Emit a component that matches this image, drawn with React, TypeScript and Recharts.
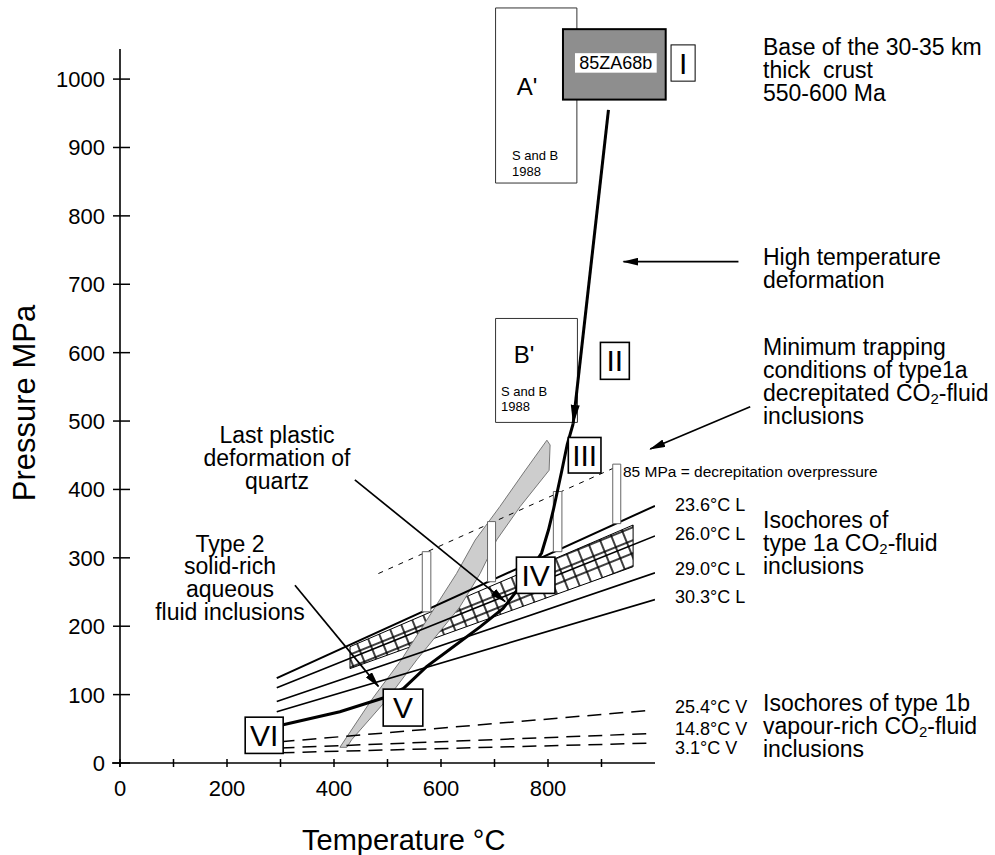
import React from 'react'
import { ComposedChart, Line, XAxis, YAxis, ReferenceArea, ReferenceLine } from 'recharts'

const FONT = '"Liberation Sans", Arial, Helvetica, sans-serif'

// axes
const T_TICKS = [0, 100, 200, 300, 400, 500, 600, 700, 800, 900]
const T_LABELS = [0, 200, 400, 600, 800]
const P_TICKS = [0, 100, 200, 300, 400, 500, 600, 700, 800, 900, 1000]

// isochores of type 1a CO2 inclusions (liquid homogenisation)
const isoL236 = [{ T: 293, P: 124 }, { T: 1000, P: 376 }]
const isoL260 = [{ T: 293, P: 110 }, { T: 1000, P: 332 }]
const isoL290 = [{ T: 293, P: 90 }, { T: 1000, P: 278 }]
const isoL303 = [{ T: 293, P: 75 }, { T: 1000, P: 239 }]

// isochores of type 1b (vapour homogenisation)
const isoV254 = [{ T: 300, P: 31 }, { T: 990, P: 77 }]
const isoV148 = [{ T: 300, P: 22 }, { T: 990, P: 43 }]
const isoV31 = [{ T: 300, P: 15 }, { T: 990, P: 29 }]

// decrepitation overpressure line (85 MPa above the 23.6 isochore)
const overpressure = [{ T: 483, P: 277 }, { T: 922, P: 431 }]

// 85 MPa bars
const decrepBars = [
  { t1: 565, t2: 581, p1: 221, p2: 309 },
  { t1: 687, t2: 702, p1: 265, p2: 353 },
  { t1: 810, t2: 826, p1: 309, p2: 397 },
  { t1: 921, t2: 936, p1: 350, p2: 437 },
]

// P-T path
const pathUplift = [{ T: 913, P: 955 }, { T: 847, P: 496 }]
const pathCooling = [
  { T: 847, P: 496 }, { T: 836, P: 466 }, { T: 826, P: 428 }, { T: 810, P: 370 },
  { T: 801, P: 341 }, { T: 788, P: 307 }, { T: 738, P: 248 }, { T: 716, P: 226 },
  { T: 673, P: 199 }, { T: 623, P: 170 }, { T: 573, P: 141 }, { T: 530, P: 109 },
  { T: 492, P: 95 }, { T: 411, P: 75 }, { T: 305, P: 56 },
]

// last plastic deformation of quartz (stippled band)
const quartzBand = [
  { T: 411, P: 23 }, { T: 470, P: 92 }, { T: 526, P: 151 }, { T: 589, P: 228 },
  { T: 629, P: 277 }, { T: 664, P: 326 }, { T: 710, P: 375 }, { T: 754, P: 424 },
  { T: 798, P: 472 }, { T: 804, P: 465 }, { T: 802, P: 428 }, { T: 748, P: 375 },
  { T: 704, P: 326 }, { T: 673, P: 277 }, { T: 635, P: 228 }, { T: 555, P: 151 },
  { T: 498, P: 92 }, { T: 433, P: 34 }, { T: 424, P: 23 },
]

// minimum trapping conditions (hatched)
const trappingBand = [
  { T: 430, P: 170 }, { T: 959, P: 348 }, { T: 959, P: 287 }, { T: 430, P: 138 },
]

// literature boxes (S and B 1988) and sample box
const boxA = { t1: 702, t2: 854, p1: 848, p2: 1104 }
const boxB = { t1: 702, t2: 855, p1: 498, p2: 650 }
const sampleBox = { t1: 828, t2: 1020, p1: 970, p2: 1073 }

const STAGES = [
  { label: 'I', t1: 1030, t2: 1075, p1: 997, p2: 1050, thin: true },
  { label: 'II', t1: 898, t2: 952, p1: 561, p2: 615 },
  { label: 'III', t1: 838, t2: 899, p1: 424, p2: 476 },
  { label: 'IV', t1: 741, t2: 813, p1: 248, p2: 301 },
  { label: 'V', t1: 492, t2: 566, p1: 54, p2: 108 },
  { label: 'VI', t1: 234, t2: 305, p1: 14, p2: 67 },
]

// arrows pointing at features
const ARROWS = [
  { from: { T: 1156, P: 733 }, to: { T: 941, P: 733 } },
  { from: { T: 1178, P: 521 }, to: { T: 991, P: 459 } },
  { from: { T: 439, P: 414 }, to: { T: 720, P: 236 } },
  { from: { T: 327, P: 260 }, to: { T: 483, P: 112 } },
]

type Pt = { T: number; P: number }

function polygonArea(key: string, pts: Pt[], style: any, z: number) {
  const ts = pts.map(p => p.T)
  const ps = pts.map(p => p.P)
  const t1 = Math.min(...ts), t2 = Math.max(...ts)
  const p1 = Math.min(...ps), p2 = Math.max(...ps)
  return (
    <ReferenceArea
      key={key}
      x1={t1} x2={t2} y1={p1} y2={p2}
      ifOverflow="visible"
      zIndex={z}
      shape={(r: any) => {
        const sx = (t: number) => r.x + ((t - t1) / (t2 - t1)) * r.width
        const sy = (p: number) => r.y + ((p2 - p) / (p2 - p1)) * r.height
        const d = pts.map((q, i) => `${i ? 'L' : 'M'}${sx(q.T).toFixed(1)},${sy(q.P).toFixed(1)}`).join(' ') + ' Z'
        return <path d={d} {...style} />
      }}
    />
  )
}

function stageBox(s: any) {
  return (
    <ReferenceArea
      key={'stage-' + s.label}
      x1={s.t1} x2={s.t2} y1={s.p1} y2={s.p2}
      ifOverflow="visible"
      zIndex={2100}
      shape={(r: any) => (
        <g>
          <rect x={r.x} y={r.y} width={r.width} height={r.height} fill="#fff" stroke="#000" strokeWidth={s.thin ? 1 : 1.6} />
          <text x={r.x + r.width / 2} y={r.y + r.height / 2 + 10.5} textAnchor="middle" fontSize={30} fontFamily={FONT}>{s.label}</text>
        </g>
      )}
    />
  )
}

const XTick = (props: any) => {
  const { x, y, payload } = props
  const v = payload.value
  return (
    <g>
      <line x1={x} x2={x} y1={y - 4} y2={y + 4} stroke="#000" strokeWidth={1.5} />
      {T_LABELS.includes(v) && (
        <text x={x} y={y + 33} textAnchor="middle" fontSize={22} fontFamily={FONT} fill="#000">{v}</text>
      )}
    </g>
  )
}

const YTick = (props: any) => {
  const { x, y, payload } = props
  return (
    <g>
      <line x1={x - 7} x2={x + 10} y1={y} y2={y} stroke="#000" strokeWidth={1.5} />
      <text x={x - 15} y={y + 8} textAnchor="end" fontSize={22} fontFamily={FONT} fill="#000">{payload.value}</text>
    </g>
  )
}

function rich(s: string, size: number) {
  const parts = s.split('CO2')
  const out: any[] = []
  parts.forEach((p, i) => {
    if (i > 0) {
      out.push(<tspan key={'c' + i}>CO</tspan>)
      out.push(<tspan key={'s' + i} fontSize={size * 0.65} dy={size * 0.12}>2</tspan>)
      out.push(<tspan key={'r' + i} dy={-size * 0.12}>{p}</tspan>)
    } else if (p) {
      out.push(<tspan key={'p' + i}>{p}</tspan>)
    }
  })
  return out
}

const NOTES = [
  { x: 763, y: 55, s: 'Base of the 30-35 km', f: 23 },
  { x: 763, y: 78, s: 'thick  crust', f: 23 },
  { x: 763, y: 101, s: '550-600 Ma', f: 23 },
  { x: 763, y: 265, s: 'High temperature', f: 23 },
  { x: 763, y: 288, s: 'deformation', f: 23 },
  { x: 763, y: 355, s: 'Minimum trapping', f: 23 },
  { x: 763, y: 378, s: 'conditions of type1a', f: 23 },
  { x: 763, y: 401, s: 'decrepitated CO2-fluid', f: 23 },
  { x: 763, y: 424, s: 'inclusions', f: 23 },
  { x: 763, y: 528, s: 'Isochores of', f: 23 },
  { x: 763, y: 551, s: 'type 1a CO2-fluid', f: 23 },
  { x: 763, y: 574, s: 'inclusions', f: 23 },
  { x: 763, y: 711, s: 'Isochores of type 1b', f: 23 },
  { x: 763, y: 734, s: 'vapour-rich CO2-fluid', f: 23 },
  { x: 763, y: 757, s: 'inclusions', f: 23 },
  { x: 675, y: 511, s: '23.6°C L', f: 18 },
  { x: 675, y: 540, s: '26.0°C L', f: 18 },
  { x: 675, y: 575, s: '29.0°C L', f: 18 },
  { x: 675, y: 603, s: '30.3°C L', f: 18 },
  { x: 675, y: 713, s: '25.4°C V', f: 18 },
  { x: 675, y: 735, s: '14.8°C V', f: 18 },
  { x: 675, y: 754, s: '3.1°C V', f: 18 },
  { x: 623, y: 477, s: '85 MPa = decrepitation overpressure', f: 15.5 },
  { x: 277, y: 443, s: 'Last plastic', f: 23, a: 'middle' },
  { x: 277, y: 466, s: 'deformation of', f: 23, a: 'middle' },
  { x: 277, y: 489, s: 'quartz', f: 23, a: 'middle' },
  { x: 230, y: 552, s: 'Type 2', f: 23, a: 'middle' },
  { x: 230, y: 574, s: 'solid-rich', f: 23, a: 'middle' },
  { x: 230, y: 597, s: 'aqueous', f: 23, a: 'middle' },
  { x: 230, y: 620, s: 'fluid inclusions', f: 23, a: 'middle' },
  { x: 527, y: 95, s: "A'", f: 24, a: 'middle' },
  { x: 512, y: 160, s: 'S and B', f: 13 },
  { x: 512, y: 175.5, s: '1988', f: 13 },
  { x: 524, y: 363, s: "B'", f: 24, a: 'middle' },
  { x: 501, y: 396, s: 'S and B', f: 13 },
  { x: 501, y: 411, s: '1988', f: 13 },
]

const lineCommon = { dot: false, activeDot: false, isAnimationActive: false, type: 'linear' as const, dataKey: 'P' }

export default function App() {
  return (
    <div style={{ position: 'absolute', left: 0, top: 0, width: 995, height: 855, background: '#fff' }}>
      <ComposedChart width={995} height={855} margin={{ top: 49, right: 340, bottom: 52, left: 40 }}>
        <XAxis
          dataKey="T" type="number" domain={[0, 1000]} ticks={T_TICKS} interval={0}
          allowDataOverflow height={40} tickSize={0} tickMargin={0} tickLine={false}
          tick={(p: any) => <XTick {...p} />}
          axisLine={{ stroke: '#000', strokeWidth: 1.6 }}
        />
        <YAxis
          type="number" domain={[0, 1044]} ticks={P_TICKS} interval={0}
          allowDataOverflow width={80} tickSize={0} tickMargin={0} tickLine={false}
          tick={(p: any) => <YTick {...p} />}
          axisLine={{ stroke: '#000', strokeWidth: 1.6 }}
        />
        <ReferenceLine segment={[{ x: -15, y: 0 }, { x: 0, y: 0 }]} ifOverflow="visible" stroke="#000" strokeWidth={1.6} />
        <ReferenceLine segment={[{ x: 0, y: 0 }, { x: 0, y: -6 }]} ifOverflow="visible" stroke="#000" strokeWidth={1.6} />

        <ReferenceArea x1={boxA.t1} x2={boxA.t2} y1={boxA.p1} y2={boxA.p2} ifOverflow="visible" zIndex={50} fill="#fff" fillOpacity={1} stroke="#333" strokeWidth={1} />
        <ReferenceArea x1={boxB.t1} x2={boxB.t2} y1={boxB.p1} y2={boxB.p2} ifOverflow="visible" zIndex={50} fill="#fff" fillOpacity={1} stroke="#333" strokeWidth={1} />

        {polygonArea('trap', trappingBand, { fill: 'url(#hatch)', stroke: '#000', strokeWidth: 1 }, 60)}
        {polygonArea('quartz', quartzBand, { fill: '#cdcdcd', stroke: '#777', strokeWidth: 1 }, 70)}

        <Line data={isoL236} {...lineCommon} zIndex={400} stroke="#000" strokeWidth={2} />
        <Line data={isoL260} {...lineCommon} zIndex={400} stroke="#000" strokeWidth={1.6} />
        <Line data={isoL290} {...lineCommon} zIndex={400} stroke="#000" strokeWidth={1.6} />
        <Line data={isoL303} {...lineCommon} zIndex={400} stroke="#000" strokeWidth={1.6} />
        <Line data={isoV254} {...lineCommon} zIndex={400} stroke="#000" strokeWidth={1.5} strokeDasharray="14 8" />
        <Line data={isoV148} {...lineCommon} zIndex={400} stroke="#000" strokeWidth={1.5} strokeDasharray="14 8" />
        <Line data={isoV31} {...lineCommon} zIndex={400} stroke="#000" strokeWidth={1.5} strokeDasharray="14 8" />

        <Line data={overpressure} {...lineCommon} zIndex={410} stroke="#000" strokeWidth={1} strokeDasharray="5 6" />
        {decrepBars.map((b, i) => (
          <ReferenceArea key={'bar' + i} x1={b.t1} x2={b.t2} y1={b.p1} y2={b.p2} ifOverflow="visible" zIndex={420} fill="#fff" fillOpacity={1} stroke="#666" strokeWidth={1} />
        ))}

        <Line data={pathUplift} {...lineCommon} zIndex={450} stroke="#000" strokeWidth={3} markerEnd="url(#headBig)" />
        <Line data={pathCooling} {...lineCommon} zIndex={450} stroke="#000" strokeWidth={3} />

        {ARROWS.map((a, i) => (
          <ReferenceLine
            key={'arr' + i}
            segment={[{ x: a.from.T, y: a.from.P }, { x: a.to.T, y: a.to.P }]}
            ifOverflow="visible"
            zIndex={460}
            shape={(p: any) => (
              <line x1={p.x1} y1={p.y1} x2={p.x2} y2={p.y2} stroke="#000" strokeWidth={1.7} markerEnd="url(#headSmall)" />
            )}
          />
        ))}

        {STAGES.map(stageBox)}

        <ReferenceArea
          x1={sampleBox.t1} x2={sampleBox.t2} y1={sampleBox.p1} y2={sampleBox.p2}
          ifOverflow="visible"
          zIndex={2100}
          shape={(r: any) => (
            <g>
              <rect x={r.x} y={r.y} width={r.width} height={r.height} fill="#8e8e8e" stroke="#000" strokeWidth={2} />
              <rect x={r.x + 12} y={r.y + 24} width={r.width - 21} height={19.5} fill="#fff" />
              <text x={r.x + 12 + (r.width - 21) / 2} y={r.y + 40} textAnchor="middle" fontSize={18} fontFamily={FONT}>85ZA68b</text>
            </g>
          )}
        />
      </ComposedChart>

      <svg width={995} height={855} style={{ position: 'absolute', left: 0, top: 0, pointerEvents: 'none' }}>
        <defs>
          <marker id="headBig" markerUnits="userSpaceOnUse" viewBox="0 0 20 10" markerWidth={20} markerHeight={10} refX={19} refY={5} orient="auto">
            <path d="M0,0.5 L20,5 L0,9.5 Z" fill="#000" />
          </marker>
          <marker id="headSmall" markerUnits="userSpaceOnUse" viewBox="0 0 16 8" markerWidth={16} markerHeight={8} refX={15} refY={4} orient="auto">
            <path d="M0,0 L16,4 L0,8 Z" fill="#000" />
          </marker>
          <pattern id="hatch" patternUnits="userSpaceOnUse" width={12} height={12} patternTransform="rotate(-22)">
            <rect width={12} height={12} fill="#fff" />
            <path d="M0,6 H12 M6,0 V12" stroke="#000" strokeWidth={1.5} />
          </pattern>
        </defs>
        <g fontFamily={FONT} fill="#000">
          {NOTES.map((n, i) => (
            <text key={i} x={n.x} y={n.y} fontSize={n.f} textAnchor={(n as any).a || 'start'} style={{ whiteSpace: 'pre' }}>
              {rich(n.s, n.f)}
            </text>
          ))}
          <text transform="translate(35,403) rotate(-90)" textAnchor="middle" fontSize={31}>Pressure MPa</text>
          <text x={302} y={850} fontSize={29}>Temperature °C</text>
        </g>
      </svg>
    </div>
  )
}
